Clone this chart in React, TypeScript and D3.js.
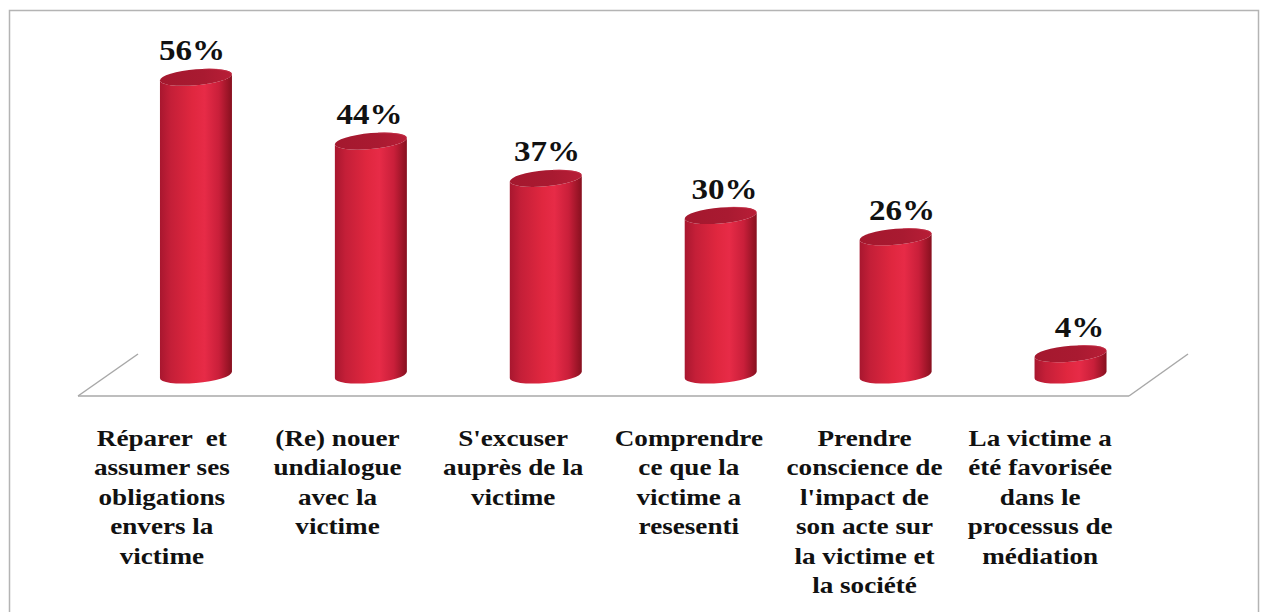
import React from "react";
import * as d3 from "d3";

const categories = [
  "Réparer  et\nassumer ses\nobligations\nenvers la\nvictime",
  "(Re) nouer\nundialogue\navec la\nvictime",
  "S'excuser\nauprès de la\nvictime",
  "Comprendre\nce que la\nvictime a\nresesenti",
  "Prendre\nconscience de\nl'impact de\nson acte sur\nla victime et\nla société",
  "La victime a\nété favorisée\ndans le\nprocessus de\nmédiation",
];
const values = [56, 44, 37, 30, 26, 4];
const valueLabels = ["56%", "44%", "37%", "30%", "26%", "4%"];

const W = 1262;
const H = 612;
const FONT = "'Liberation Serif', 'Times New Roman', serif";

export default function App() {
  const idx = categories.map((_, i) => String(i));
  // front edge positions (category labels)
  const xFront = d3.scaleBand().domain(idx).range([74, 1128]).padding(0);
  // bar positions (middle depth of the 3D floor)
  const xBar = d3.scaleBand().domain(idx).range([108.5, 1158]).padding(0);
  const baseY = 375;
  const y = d3.scaleLinear().domain([0, 60]).range([baseY, baseY - 319]);

  const rx = 36;
  const ry = 8;
  const skew = -5;

  const floorFrontY = 396;
  const floorBackY = 354;
  const floorX0 = 78;
  const floorX1 = 1129;
  const depthDx = 60;

  return (
    <div style={{ position: "absolute", left: 0, top: 0 }}>
      <svg width={W} height={H} style={{ display: "block" }}>
        <defs>
          <linearGradient id="body" x1="0" x2="1" y1="0" y2="0">
            <stop offset="0" stopColor="#a8172f" />
            <stop offset="0.15" stopColor="#c41f38" />
            <stop offset="0.45" stopColor="#e0273f" />
            <stop offset="0.62" stopColor="#e72b47" />
            <stop offset="0.82" stopColor="#c91f3a" />
            <stop offset="1" stopColor="#87101f" />
          </linearGradient>
          <linearGradient id="top" x1="0" x2="1" y1="0" y2="0">
            <stop offset="0" stopColor="#a4182e" />
            <stop offset="0.6" stopColor="#a91a31" />
            <stop offset="1" stopColor="#b81e37" />
          </linearGradient>
        </defs>
        <rect x={9.5} y={10.5} width={1249} height={610} fill="#fff" stroke="#b4b4b4" strokeWidth={1.5} />
        {/* floor */}
        <g stroke="#a8a8a8" strokeWidth={1.5} fill="none">
          <line x1={floorX0} y1={floorFrontY} x2={floorX0 + depthDx} y2={floorBackY} />
          <line x1={floorX0} y1={floorFrontY} x2={floorX1} y2={floorFrontY} />
          <line x1={floorX1} y1={floorFrontY} x2={floorX1 + depthDx - 1} y2={floorBackY} />
        </g>
        {/* cylinders */}
        {values.map((v, i) => {
          const cx = (xBar(String(i)) as number) + xBar.bandwidth() / 2;
          const yt = y(v);
          const yb = y(0);
          const body = `M${cx - rx},${yt} L${cx - rx},${yb} A${rx},${ry} 0 0 0 ${cx + rx},${yb} L${cx + rx},${yt} A${rx},${ry} 0 0 1 ${cx - rx},${yt} Z`;
          return (
            <g key={i} transform={`translate(${cx},0) skewY(${skew}) translate(${-cx},0)`}>
              <path d={body} fill="url(#body)" />
              <ellipse cx={cx} cy={yt} rx={rx} ry={ry} fill="url(#top)" />
              <path
                d={`M${cx + rx * 0.2},${yt - ry + 0.6} A${rx},${ry} 0 0 1 ${cx + rx - 0.5},${yt}`}
                stroke="#c8354d"
                strokeWidth={1}
                fill="none"
                opacity={0.6}
              />
            </g>
          );
        })}
        {/* value labels */}
        {values.map((v, i) => {
          const cx = (xBar(String(i)) as number) + xBar.bandwidth() / 2 - 4 + 2.6 * i;
          const ly = y(v) - ry - 9;
          return (
            <g key={i} transform={`translate(${cx},${ly}) scale(1.12,1)`}>
              <text x={0} y={0} textAnchor="middle" fontFamily={FONT} fontWeight="bold" fontSize={29.5} fill="#111">
                {valueLabels[i]}
              </text>
            </g>
          );
        })}
        {/* category labels */}
        {categories.map((c, i) => {
          const cx = (xFront(String(i)) as number) + xFront.bandwidth() / 2;
          const lines = c.split("\n");
          return (
            <g key={i} transform={`translate(${cx},0) scale(1.18,1)`}>
              {lines.map((ln, j) => (
                <text
                  key={j}
                  x={0}
                  y={446 + j * 29.5}
                  textAnchor="middle"
                  fontFamily={FONT}
                  fontWeight="bold"
                  fontSize={23}
                  fill="#111"
                  style={{ whiteSpace: "pre" }}
                >
                  {ln}
                </text>
              ))}
            </g>
          );
        })}
      </svg>
    </div>
  );
}
